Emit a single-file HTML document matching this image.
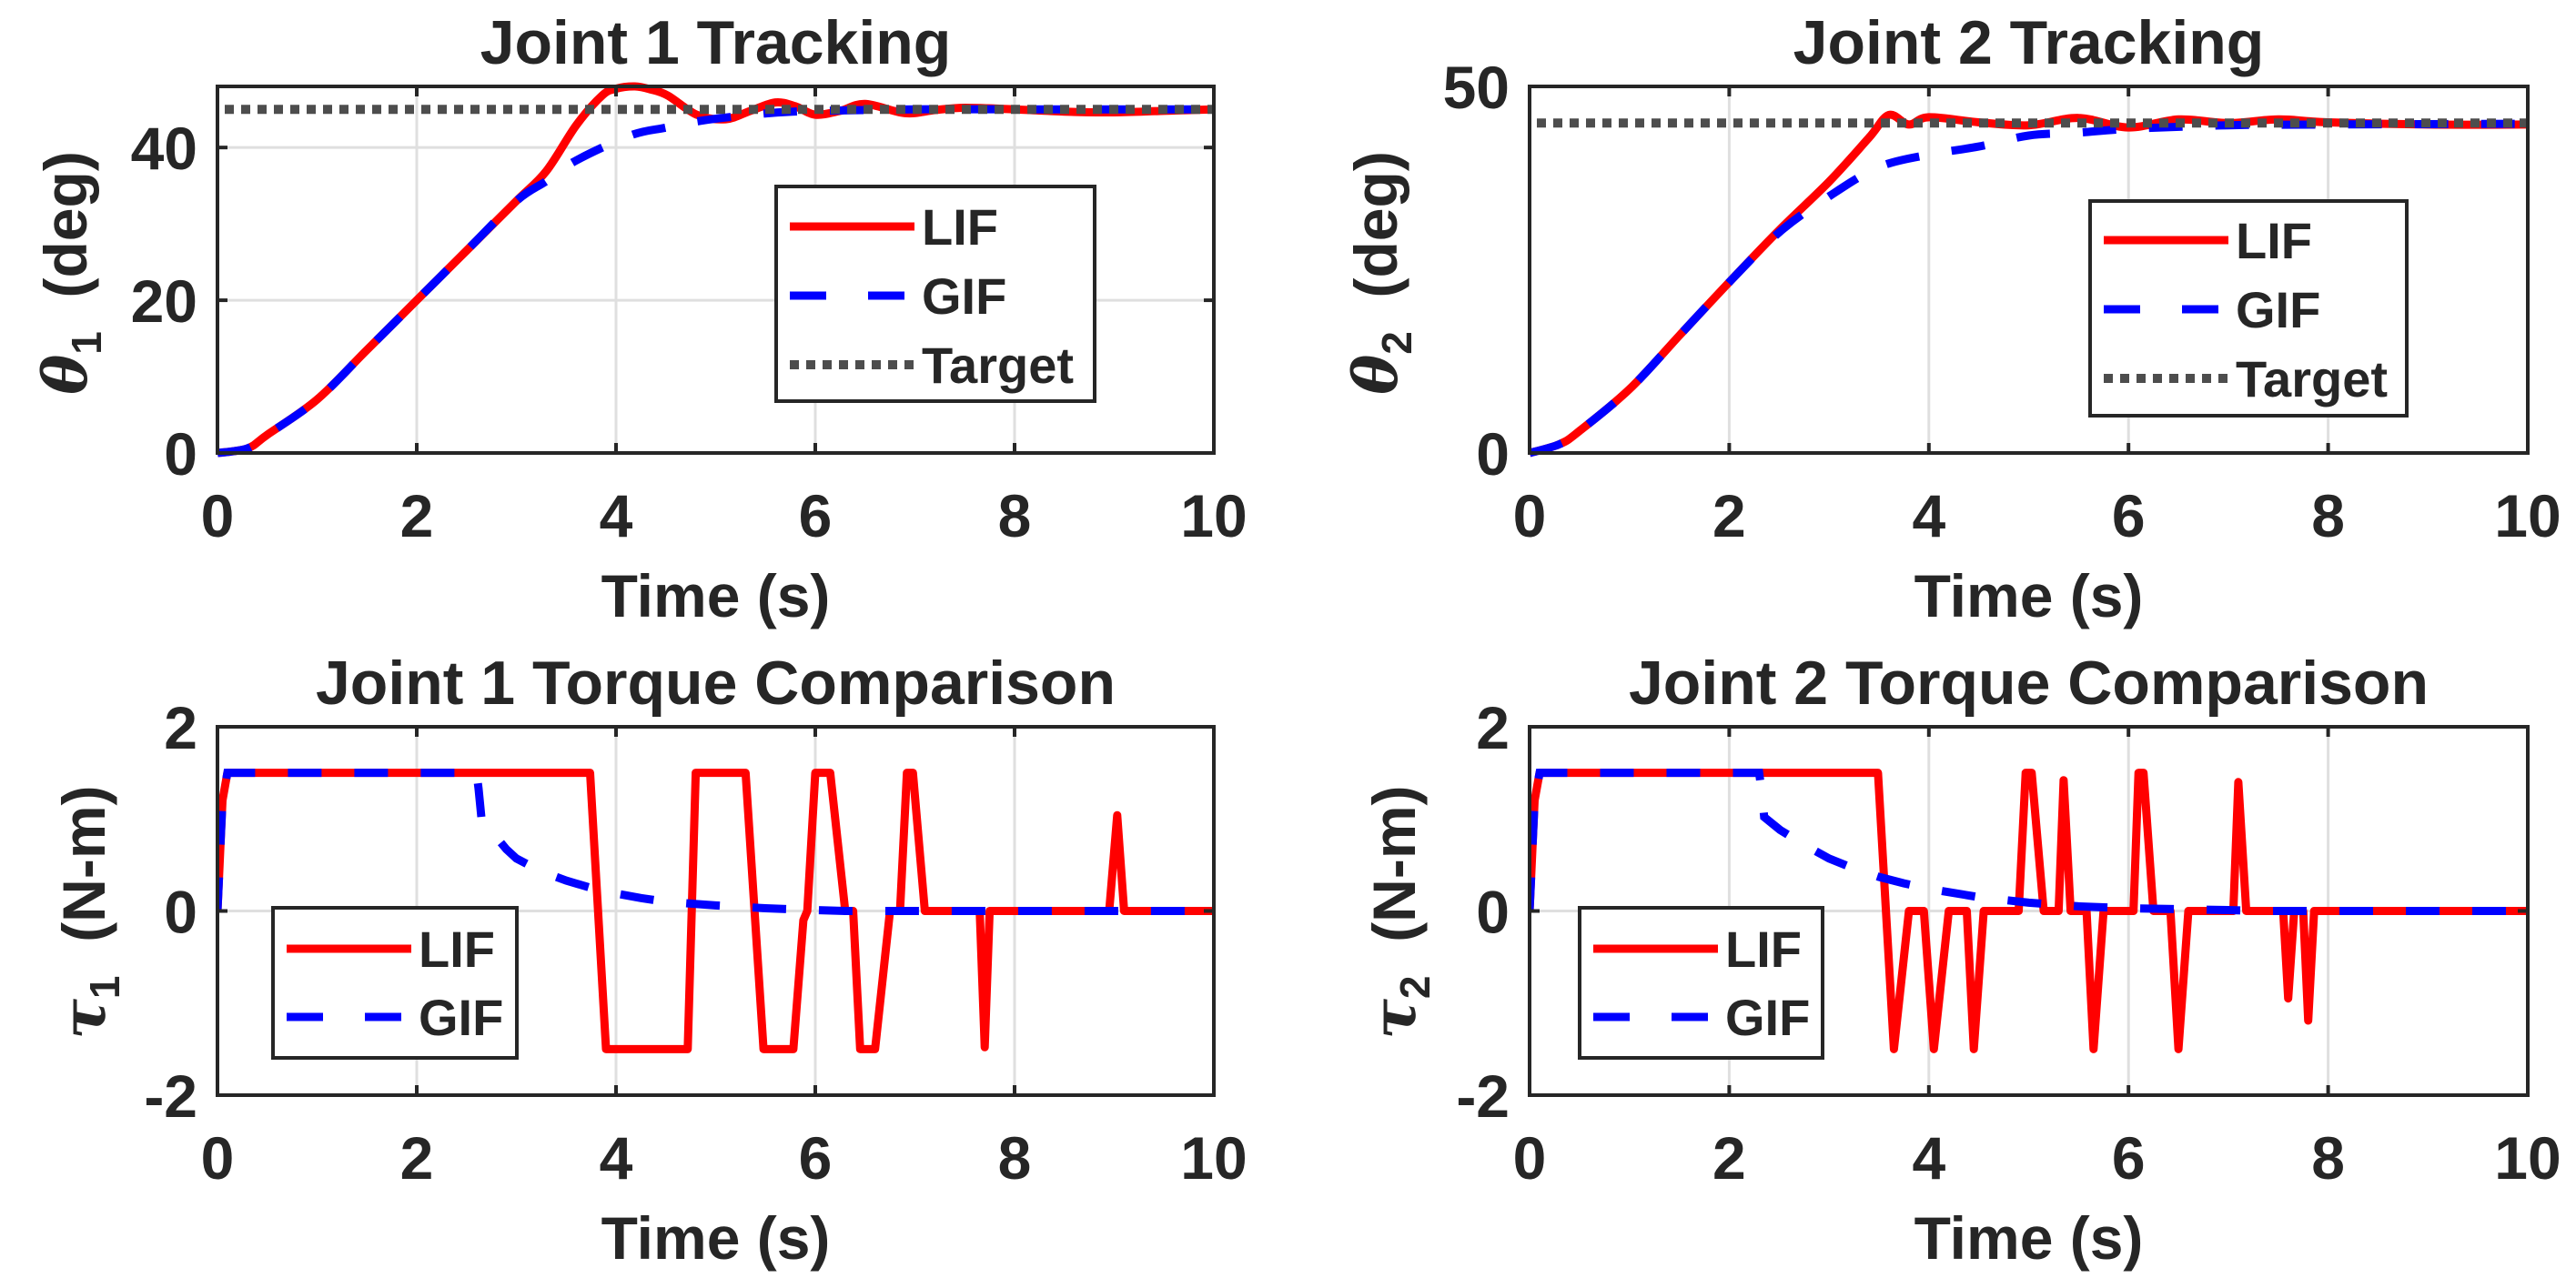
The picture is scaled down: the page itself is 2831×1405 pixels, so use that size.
<!DOCTYPE html>
<html><head><meta charset="utf-8">
<style>
html,body{margin:0;padding:0;background:#fff;}
svg{display:block;}
text{font-family:"Liberation Sans",Arial,sans-serif;font-weight:bold;fill:#262626;}
</style></head>
<body>
<svg id="fig" width="2831" height="1405" viewBox="0 0 2831 1405" xmlns="http://www.w3.org/2000/svg"></svg>
<script>
// ---- data ----
const xTicks = [0,2,4,6,8,10];
const j1Time = [0,0.3,0.5,1,1.5,2,2.5,3,3.3,3.6,3.86,4.0,4.19,4.35,4.52,4.81,5.1,5.35,5.6,5.8,6.0,6.25,6.5,6.9,7.2,7.5,8,8.5,9,9.5,10];
const j1LIF  = [0,0.6,2.4,7,13.5,20,26.5,33,36.9,42.9,46.8,47.7,48.0,47.6,46.8,44.3,43.7,44.8,45.9,45.4,44.3,44.8,45.7,44.5,44.9,45.2,45.0,44.7,44.6,44.8,45.0];
const j1GIFTime = [0,0.3,0.5,1,1.5,2,2.5,3,3.3,3.6,4.15,4.5,4.85,5.3,5.77,6.5,7,8,9,10];
const j1GIF  = [0,0.6,2.4,7,13.5,20,26.5,33,35.6,38.3,41.6,42.6,43.5,44.2,44.7,44.9,45,45,45,45];
const j1Target = 45;
const j1YTicks = [0,20,40];

const j2Time = [0,0.3,0.5,1,1.5,2,2.5,3,3.4,3.6,3.8,4.0,4.5,5.0,5.5,6.0,6.5,7,7.5,8,9,10];
const j2LIF  = [0,1.2,3,8.7,16,23.3,30.4,37,43,46.1,44.8,45.8,45.1,44.7,45.7,44.4,45.5,45,45.5,45.1,44.8,44.8];
const j2GIFTime = [0,0.3,0.5,1,1.5,2,2.5,3,3.5,4,4.5,5,5.5,6,7,8,10];
const j2GIF  = [0,1.2,3,8.7,16,23.3,30.1,35,39,40.7,41.8,43.3,43.7,44.2,44.7,44.8,44.9];
const j2Target = 45;
const j2YTicks = [0,50];

const t1Time = [0,0.05,0.1,3.74,3.9,4.72,4.8,5.3,5.48,5.78,5.88,5.92,6.0,6.15,6.3,6.38,6.45,6.6,6.75,6.85,6.92,6.98,7.1,7.65,7.7,7.75,7.8,8.95,9.03,9.1,10];
const t1LIF  = [0,1.2,1.5,1.5,-1.5,-1.5,1.5,1.5,-1.5,-1.5,-0.1,0,1.5,1.5,0,0,-1.5,-1.5,0,0,1.5,1.5,0,0,-1.48,0,0,0,1.04,0,0];
const t1GIFTime = [0,0.05,0.1,2.6,2.62,2.65,2.7,2.8,2.9,3.0,3.25,3.5,3.75,4.0,4.25,4.5,5.0,5.5,6.0,6.3,10];
const t1GIF  = [0,1.2,1.5,1.5,1.33,1.0,0.92,0.8,0.67,0.57,0.43,0.33,0.25,0.19,0.14,0.10,0.06,0.03,0.01,0,0];
const t1YTicks = [-2,0,2];

const t2Time = [0,0.05,0.1,3.49,3.65,3.8,3.95,4.05,4.2,4.38,4.45,4.55,4.9,4.97,5.03,5.15,5.3,5.35,5.42,5.58,5.65,5.75,6.05,6.1,6.15,6.25,6.42,6.5,6.6,7.05,7.1,7.18,7.55,7.6,7.66,7.75,7.8,7.86,10];
const t2LIF  = [0,1.2,1.5,1.5,-1.5,0,0,-1.5,0,0,-1.5,0,0,1.5,1.5,0,0,1.42,0,0,-1.5,0,0,1.5,1.5,0,0,-1.5,0,0,1.4,0,0,-0.95,0,0,-1.19,0,0];
const t2GIFTime = [0,0.05,0.1,2.3,2.33,2.35,2.51,2.75,3.0,3.25,3.5,3.75,4.0,4.5,5.0,5.5,6.0,6.5,7.0,7.3,10];
const t2GIF  = [0,1.2,1.5,1.5,1.25,1.02,0.88,0.72,0.57,0.46,0.37,0.30,0.24,0.15,0.09,0.05,0.03,0.02,0.01,0,0];
const t2YTicks = [-2,0,2];

const NS = "http://www.w3.org/2000/svg";
const svg = document.getElementById('fig');
function mk(tag, attrs, parent){
  const e = document.createElementNS(NS, tag);
  for (const k in attrs) e.setAttribute(k, attrs[k]);
  (parent||svg).appendChild(e);
  return e;
}

function panel(cfg){
  const g = mk('g', {});
  
  
  const L=cfg.L,R=cfg.R,T=cfg.T,B=cfg.B;
  const sx = t => L + (t-0)/(10-0)*(R-L);
  const sy = v => B - (v-cfg.ymin)/(cfg.ymax-cfg.ymin)*(B-T);
  xTicks.forEach(t=>{
    const l = mk('line',{x1:sx(t),x2:sx(t),y1:T,y2:B,stroke:'#dfdfdf','stroke-width':3},g);
    
    
  });
  cfg.yTicks.forEach(v=>{
    const l = mk('line',{x1:L,x2:R,y1:sy(v),y2:sy(v),stroke:'#dfdfdf','stroke-width':3},g);
    
    
  });
  const cid = cfg.name+'-clip';
  const cp = mk('clipPath',{id:cid},g);
  mk('rect',{x:L,y:T-6,width:R-L,height:B-T+12},cp);
  const pg = mk('g',{'clip-path':'url(#'+cid+')'},g);
  function path(ts, vs){
    const P = ts.map((t,i)=>[sx(t), sy(vs[i])]);
    if (!cfg.smooth) return P.map((p,i)=>(i?'L':'M')+p[0].toFixed(1)+','+p[1].toFixed(1)).join(' ');
    let d = 'M'+P[0][0].toFixed(1)+','+P[0][1].toFixed(1);
    for (let i=0;i<P.length-1;i++){
      const p0=P[Math.max(0,i-1)],p1=P[i],p2=P[i+1],p3=P[Math.min(P.length-1,i+2)];
      const c1=[p1[0]+(p2[0]-p0[0])/6,p1[1]+(p2[1]-p0[1])/6];
      const c2=[p2[0]-(p3[0]-p1[0])/6,p2[1]-(p3[1]-p1[1])/6];
      d+=' C'+c1[0].toFixed(1)+','+c1[1].toFixed(1)+' '+c2[0].toFixed(1)+','+c2[1].toFixed(1)+' '+p2[0].toFixed(1)+','+p2[1].toFixed(1);
    }
    return d;
  }
  const lif = mk('path',{d:path(cfg.lifT,cfg.lif),fill:'none',stroke:'#ff0000','stroke-width':9,'stroke-linejoin':'round'},pg);
  
  
  const gif = mk('path',{d:path(cfg.gifT,cfg.gif),fill:'none',stroke:'#0000ff','stroke-width':9,'stroke-dasharray':'37 36'},pg);
  
  
  if (cfg.target!==undefined){
    const tg = mk('line',{x1:L+8,x2:R,y1:sy(cfg.target),y2:sy(cfg.target),stroke:'#4d4d4d','stroke-width':10,'stroke-dasharray':'10 8'},pg);
    
    
  }
  const box = mk('rect',{x:L,y:T,width:R-L,height:B-T,fill:'none',stroke:'#262626','stroke-width':4},g);
  
  
  xTicks.forEach(t=>{
    mk('line',{x1:sx(t),x2:sx(t),y1:B,y2:B-11,stroke:'#262626','stroke-width':4},g);
    mk('line',{x1:sx(t),x2:sx(t),y1:T,y2:T+11,stroke:'#262626','stroke-width':4},g);
    const tx = mk('text',{x:sx(t),y:B+92,'text-anchor':'middle','font-size':66},g);
    tx.textContent = t;
    
    
  });
  cfg.yTicks.forEach(v=>{
    mk('line',{x1:L,x2:L+11,y1:sy(v),y2:sy(v),stroke:'#262626','stroke-width':4},g);
    mk('line',{x1:R,x2:R-11,y1:sy(v),y2:sy(v),stroke:'#262626','stroke-width':4},g);
    const ty = mk('text',{x:L-22,y:sy(v)+24,'text-anchor':'end','font-size':66},g);
    ty.textContent = v;
    
    
  });
  const ti = mk('text',{x:(L+R)/2,y:cfg.titleY,'text-anchor':'middle','font-size':68,fill:'#000'},g);
  ti.textContent = cfg.title;
  
  
  const xl = mk('text',{x:(L+R)/2,y:B+180,'text-anchor':'middle','font-size':66},g);
  xl.textContent = 'Time (s)';
  
  
  const yl = mk('text',{transform:'translate('+cfg.ylx+','+cfg.yly+') rotate(-90)','text-anchor':'middle','font-size':66},g);
  
  
  const s1 = mk('tspan',{'font-family':'"DejaVu Serif","Liberation Serif",serif','font-style':'italic'},yl); s1.textContent = cfg.sym;
  const s2 = mk('tspan',{dy:16,'font-size':46},yl); s2.textContent = cfg.sub;
  const s3 = mk('tspan',{dy:-16},yl); s3.textContent = '\u00a0\u00a0'+cfg.unit;
  const lg = cfg.legend;
  const lgG = mk('g',{},g);
  
  
  mk('rect',{x:lg.x,y:lg.y,width:lg.w,height:lg.h,fill:'#fff',stroke:'#262626','stroke-width':4},lgG);
  lg.items.forEach((it,i)=>{
    const ey = lg.y0 + i*lg.dy;
    const e = mk('g',{},lgG);
    
    
    const st = it.style==='lif'?{stroke:'#ff0000'}:it.style==='gif'?{stroke:'#0000ff','stroke-dasharray':'40 46'}:{stroke:'#4d4d4d','stroke-dasharray':'10 8'};
    const la = Object.assign({x1:lg.x+15,x2:lg.x+152,y1:ey,y2:ey,'stroke-width':it.style==='target'?10:9},st);
    mk('line',la,e);
    const tt = mk('text',{x:lg.x+160,y:ey+20,'font-size':56,fill:'#000'},e);
    tt.textContent = it.label;
  });
}

const lg3 = [{label:'LIF',style:'lif'},{label:'GIF',style:'gif'},{label:'Target',style:'target'}];
const lg2 = [{label:'LIF',style:'lif'},{label:'GIF',style:'gif'}];

panel({name:'joint1-tracking-plot',L:239,R:1334,T:95,B:498,ymin:0,ymax:48,yTicks:j1YTicks,smooth:true,
  lifT:j1Time,lif:j1LIF,gifT:j1GIFTime,gif:j1GIF,target:j1Target,title:'Joint 1 Tracking',titleY:70,
  sym:'\u03b8',sub:'1',unit:'(deg)',ylx:95,yly:300,
  legend:{x:853,y:205,w:350,h:236,y0:249,dy:76,items:lg3}});
panel({name:'joint2-tracking-plot',L:1681,R:2778,T:95,B:498,ymin:0,ymax:50,yTicks:j2YTicks,smooth:true,
  lifT:j2Time,lif:j2LIF,gifT:j2GIFTime,gif:j2GIF,target:j2Target,title:'Joint 2 Tracking',titleY:70,
  sym:'\u03b8',sub:'2',unit:'(deg)',ylx:1535,yly:300,
  legend:{x:2297,y:221,w:348,h:236,y0:264,dy:76,items:lg3}});
panel({name:'joint1-torque-plot',L:239,R:1334,T:799,B:1204,ymin:-2,ymax:2,yTicks:t1YTicks,
  lifT:t1Time,lif:t1LIF,gifT:t1GIFTime,gif:t1GIF,title:'Joint 1 Torque Comparison',titleY:774,
  sym:'\u03c4',sub:'1',unit:'(N-m)',ylx:115,yly:1003,
  legend:{x:300,y:998,w:268,h:165,y0:1043,dy:75,items:lg2}});
panel({name:'joint2-torque-plot',L:1681,R:2778,T:799,B:1204,ymin:-2,ymax:2,yTicks:t2YTicks,
  lifT:t2Time,lif:t2LIF,gifT:t2GIFTime,gif:t2GIF,title:'Joint 2 Torque Comparison',titleY:774,
  sym:'\u03c4',sub:'2',unit:'(N-m)',ylx:1555,yly:1003,
  legend:{x:1736,y:998,w:267,h:165,y0:1043,dy:75,items:lg2}});
</script>
</body></html>
